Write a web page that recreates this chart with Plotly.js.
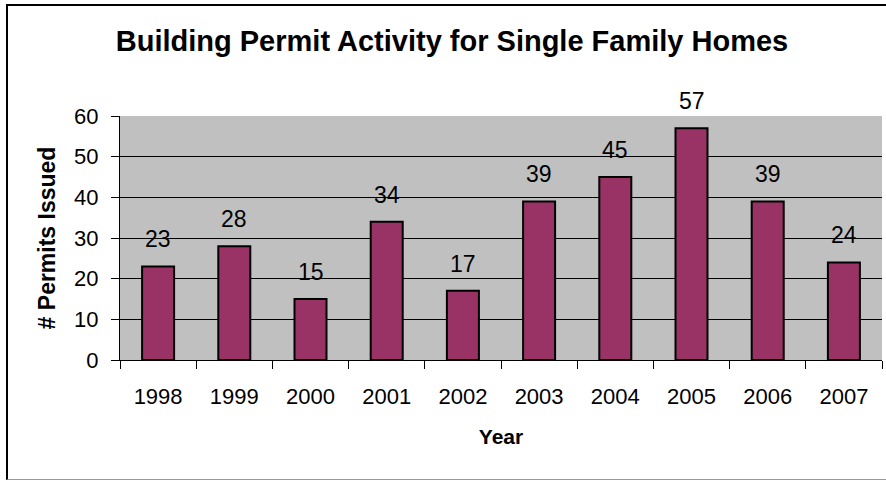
<!DOCTYPE html>
<html>
<head>
<meta charset="utf-8">
<script src="https://cdn.plot.ly/plotly-3.0.1.min.js"></script>
<style>
  html, body { margin: 0; padding: 0; background: #fff; }
  #wrap { position: relative; width: 886px; height: 481px; overflow: hidden; }
  #chart { width: 886px; height: 481px; }
  #frame { position: absolute; left: 6px; top: 4px; width: 890px; height: 473px;
           border-left: 2px solid #000; border-top: 2px solid #000; border-bottom: 1px solid #999;
           pointer-events: none; box-sizing: content-box; }
</style>
</head>
<body>
<div id="wrap">
  <div id="chart"></div>
  <div id="frame"></div>
</div>
<script>
const years = ["1998","1999","2000","2001","2002","2003","2004","2005","2006","2007"];
const permits = [23, 28, 15, 34, 17, 39, 45, 57, 39, 24];
const yTicks = [0, 10, 20, 30, 40, 50, 60];

const trace = {
  type: "bar",
  x: years,
  y: permits,
  marker: { color: "#993366", line: { color: "#000000", width: 2 } },
  hoverinfo: "x+y"
};

// annotations on a category axis: use the category index
const annotations = years.map((yr, i) => ({
  x: i, y: permits[i], xref: "x", yref: "y",
  text: String(permits[i]), showarrow: false,
  yanchor: "middle", yshift: 27,
  font: { family: "Arial, Liberation Sans, sans-serif", size: 23, color: "#000" }
}));

const layout = {
  width: 886, height: 481,
  margin: { l: 120, r: 4, t: 116, b: 121 },
  paper_bgcolor: "#ffffff",
  plot_bgcolor: "#c0c0c0",
  bargap: 0.58,
  showlegend: false,
  font: { family: "Arial, Liberation Sans, sans-serif", color: "#000" },
  title: {
    text: "<b>Building Permit Activity for Single Family Homes</b>",
    font: { family: "Arial, Liberation Sans, sans-serif", size: 29, color: "#000" },
    x: 452 / 886, xref: "container", xanchor: "center",
    y: 1 - 41 / 481, yref: "container", yanchor: "middle"
  },
  xaxis: {
    type: "category",
    categoryorder: "array", categoryarray: years,
    range: [-0.5, years.length - 0.5],
    tickson: "boundaries",
    ticks: "outside", ticklen: 8, tickcolor: "#000", tickwidth: 1,
    showline: true, linecolor: "#000", linewidth: 1,
    showgrid: false,
    tickfont: { size: 22, color: "#000" },
    tickangle: 0,
    ticklabelstandoff: 17,
    title: { text: "<b>Year</b>", font: { size: 21, color: "#000" }, standoff: 20 }
  },
  yaxis: {
    range: [0, 60],
    tickvals: yTicks,
    ticks: "outside", ticklen: 8, tickcolor: "#000", tickwidth: 1,
    showline: true, linecolor: "#000", linewidth: 1,
    showgrid: true, gridcolor: "#000", gridwidth: 1,
    zeroline: false,
    tickfont: { size: 22, color: "#000" },
    ticklabelstandoff: 8,
    title: { text: "<b># Permits Issued</b>", font: { size: 23, color: "#000" }, standoff: 12 }
  },
  annotations: annotations
};

Plotly.newPlot("chart", [trace], layout, { displayModeBar: false, staticPlot: true });
</script>
</body>
</html>
